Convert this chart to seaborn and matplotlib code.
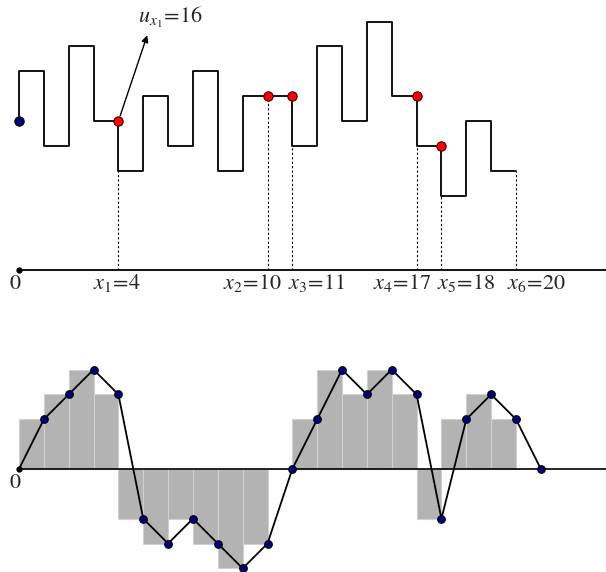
import numpy as np
import matplotlib
matplotlib.use('Agg')
import matplotlib.pyplot as plt
import seaborn as sns

sns.set_theme(style='white')
plt.rcParams['font.family'] = ['Liberation Serif', 'DejaVu Serif']
plt.rcParams['mathtext.fontset'] = 'stix'

# Dados do grafico de cima (funcao em degraus u(x))
u0 = 16
niveis = [18, 15, 19, 16, 14, 17, 15, 18, 14, 17, 17, 15, 19, 16, 20, 17, 15, 13, 16, 14]
bordas = list(range(21))
base = 10
pontos_x = [4, 10, 11, 16, 17]
pontos_u = [16, 17, 17, 17, 15]
tracejado_x = [4, 10, 11, 16, 17, 20]
tracejado_topo = [14, 17, 15, 15, 13, 14]
rotulos = [r'$x_1\!=\!4$', r'$x_2\!=\!10$', r'$x_3\!=\!11$',
           r'$x_4\!=\!17$', r'$x_5\!=\!18$', r'$x_6\!=\!20$']
rotulos_pos = [2.98, 8.21, 10.82, 14.25, 16.82, 19.64]

# Dados do grafico de baixo (barras + linha)
barras = [2, 3, 4, 3, -2, -3, -2, -3, -4, -3, 0, 2, 4, 3, 4, 3, -2, 2, 3, 2]
linha_x = list(range(22))
linha_y = [0, 2, 3, 4, 3, -2, -3, -2, -3, -4, -3, 0, 2, 4, 3, 4, 3, -2, 2, 3, 2, 0]

fig = plt.figure(figsize=(6.06, 5.72), dpi=100)
ax1 = fig.add_axes([0, 272 / 572, 1, 300 / 572])
ax2 = fig.add_axes([0, 0, 1, 272 / 572])

# ---- grafico de cima ----
xs = [0] + bordas
ys = [u0] + niveis + [niveis[-1]]
ax1.hlines(base, 0, 24, color='black', lw=1.3, zorder=2)
ax1.vlines(tracejado_x, base, tracejado_topo, colors='black',
           linestyles=(0, (2, 2)), lw=0.8, zorder=1)
sns.lineplot(x=xs, y=ys, estimator=None, sort=False, drawstyle='steps-post',
             color='black', lw=1.3, ax=ax1, zorder=3)
sns.scatterplot(x=pontos_x, y=pontos_u, color='red', edgecolor='#400000',
                linewidth=0.8, s=45, ax=ax1, zorder=4)
sns.scatterplot(x=[0], y=[u0], color='#000080', edgecolor='black',
                linewidth=0.8, s=45, ax=ax1, zorder=4)
ax1.plot([0], [base], 'o', color='black', ms=3.5, zorder=4)
ax1.annotate('', xy=(5.16, 19.45), xytext=(4, 16),
             arrowprops=dict(arrowstyle='-|>', color='black', lw=1,
                             mutation_scale=10, shrinkA=4, shrinkB=0))
ax1.text(4.79, 19.94, r'$u_{x_1}\!=\!16$', fontsize=16, va='baseline', ha='left')
ax1.text(-0.16, 9.24, r'$0$', fontsize=16, va='baseline', ha='center')
for pos, rot in zip(rotulos_pos, rotulos):
    ax1.text(pos, 9.24, rot, fontsize=16, va='baseline', ha='left')
ax1.set_xlim(-19 / 24.85, 587 / 24.85)
ax1.set_ylim(8.80, 20.87)
ax1.axis('off')

# ---- grafico de baixo ----
centros = np.arange(len(barras)) + 0.5
sns.barplot(x=centros, y=barras, native_scale=True, width=1, color='#b3b3b3',
            saturation=1, edgecolor='#d0d0d0', linewidth=0.8, errorbar=None,
            ax=ax2, zorder=1)
ax2.hlines(0, 0, 24, color='black', lw=1.2, zorder=2)
sns.lineplot(x=linha_x, y=linha_y, estimator=None, sort=False, color='black',
             lw=1.3, ax=ax2, zorder=3)
sns.scatterplot(x=linha_x[1:], y=linha_y[1:], color='#000080', edgecolor='black',
                linewidth=0.8, s=30, ax=ax2, zorder=4)
ax2.plot([0], [0], 'o', color='black', ms=3.5, zorder=4)
ax2.text(-0.16, -0.76, r'$0$', fontsize=16, va='baseline', ha='center')
ax2.set_xlim(-19 / 24.85, 587 / 24.85)
ax2.set_ylim(-4.145, 6.80)
ax2.axis('off')

fig.savefig('out.png', dpi=100)
